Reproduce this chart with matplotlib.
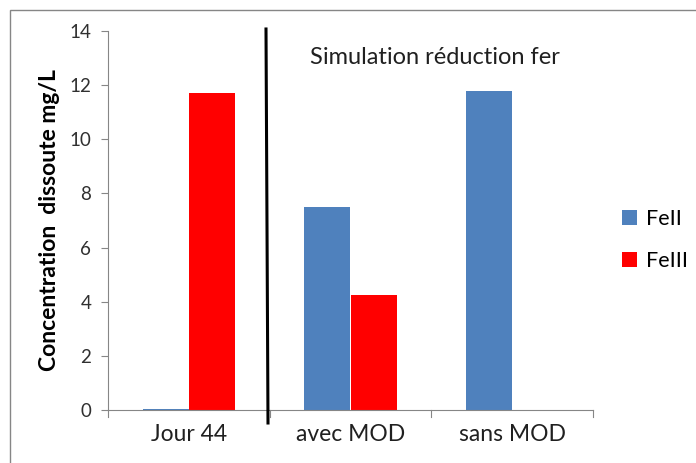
import matplotlib.pyplot as plt
from matplotlib.patches import Rectangle
from matplotlib.lines import Line2D
import numpy as np

categories = ['Jour 44', 'avec MOD', 'sans MOD']
fe2 = [0.05, 7.5, 11.8]
fe3 = [11.7, 4.25, 0.0]

blue = '#4F81BD'
red = '#FF0000'
axis_grey = '#868686'

plt.rcParams['font.family'] = ['Lato', 'DejaVu Sans']

fig = plt.figure(figsize=(6.96, 4.63), dpi=100)
ax = fig.add_axes([108/696, 53/463, 485/696, 379/463])

x = np.arange(len(categories))
w = 1 / 3.5
ax.bar(x - w/2, fe2, w, color=blue, label='FeII')
ax.bar(x + w/2, fe3, w, color=red, label='FeIII')

ax.set_xlim(-0.5, 2.5)
ax.set_ylim(0, 14)
ax.set_yticks(range(0, 15, 2))
ax.set_xticks(x)
ax.set_xticklabels(categories, fontsize=16.5, color='#202020')
ax.tick_params(axis='x', length=0, pad=10)
ax.tick_params(axis='y', labelsize=13.5, colors=axis_grey, labelcolor='#303030',
               length=5, width=0.8, pad=7)
# category boundary ticks on the x axis
for b in [-0.5, 0.5, 1.5, 2.5]:
    ax.add_line(Line2D([b, b], [0, -0.25], color=axis_grey, lw=0.8,
                       clip_on=False))

for s in ['top', 'right']:
    ax.spines[s].set_visible(False)
for s in ['left', 'bottom']:
    ax.spines[s].set_color(axis_grey)
    ax.spines[s].set_linewidth(0.8)

ax.set_ylabel('Concentration  dissoute mg/L', fontsize=16.5, fontweight='bold',
              labelpad=7)

# separator between measured and simulated values
fig.add_artist(Line2D([266/696, 268/696], [1 - 29/463, 1 - 423/463],
                      color='black', lw=2.2, transform=fig.transFigure))
fig.text(310/696, 1 - 57/463, 'Simulation réduction fer', fontsize=17,
         va='center', ha='left', color='#202020')

fig.legend(loc='center left', bbox_to_anchor=(622/696, 1 - 240/463),
           frameon=False, fontsize=15.5, handlelength=0.7, handleheight=0.7,
           handletextpad=0.4, labelspacing=1.05, borderpad=0,
           borderaxespad=0)

# chart frame
fig.add_artist(Rectangle((10/696, -0.1), 1.2, 1 - 10/463 + 0.1,
                         transform=fig.transFigure, fill=False,
                         edgecolor=axis_grey, lw=1.0))

fig.savefig('out.png', dpi=100)
